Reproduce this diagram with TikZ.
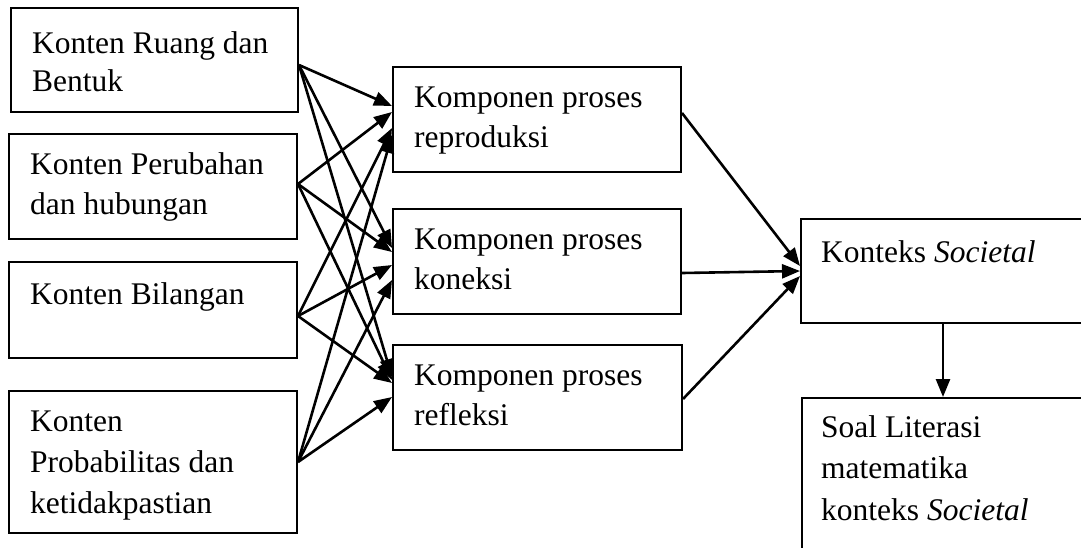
\documentclass[tikz,border=0pt]{standalone}
\usepackage{fontspec}
\setmainfont{Liberation Serif}
\usetikzlibrary{arrows.meta}
\begin{document}
\begin{tikzpicture}[x=1pt,y=-1pt,
  box/.style={draw,line width=2pt,anchor=north west,inner sep=0pt},
  txt/.style={anchor=base west,inner sep=0pt,font=\fontsize{31.5}{40}\selectfont},
  arr/.style={line width=2.6pt,-{Triangle[length=18pt,width=14pt]}}]
\useasboundingbox (0,0) rectangle (1081,547);
\clip (0,0) rectangle (1081,547);
% boxes
\node[box,minimum width=287pt,minimum height=104pt] (b1) at (10,7) {};
\node[box,minimum width=288pt,minimum height=105pt] (b2) at (8,133) {};
\node[box,minimum width=288pt,minimum height=96pt] (b3) at (8,261) {};
\node[box,minimum width=288pt,minimum height=142pt] (b4) at (8,390) {};
\node[box,minimum width=288pt,minimum height=105pt] (mA) at (392,66) {};
\node[box,minimum width=288pt,minimum height=105pt] (mB) at (392,208) {};
\node[box,minimum width=289pt,minimum height=105pt] (mC) at (392,344) {};
\node[box,minimum width=300pt,minimum height=104pt] (S) at (800,218) {};
\node[box,minimum width=300pt,minimum height=170pt] (Q) at (801,397) {};
% texts
\node[txt] (t11) at (32,53) {Konten Ruang dan};
\node[txt] (t12) at (32,91) {Bentuk};
\node[txt] (t21) at (30,174) {Konten Perubahan};
\node[txt] (t22) at (30,214) {dan hubungan};
\node[txt] (t31) at (30,304) {Konten Bilangan};
\node[txt] (t41) at (30,431) {Konten};
\node[txt] (t42) at (30,472) {Probabilitas dan};
\node[txt] (t43) at (30,513) {ketidakpastian};
\node[txt] (tA1) at (414,107) {Komponen proses};
\node[txt] (tA2) at (414,147) {reproduksi};
\node[txt] (tB1) at (414,249) {Komponen proses};
\node[txt] (tB2) at (414,289) {koneksi};
\node[txt] (tC1) at (414,385) {Komponen proses};
\node[txt] (tC2) at (414,425) {refleksi};
\node[txt] (tS) at (821,262) {Konteks \textit{Societal}};
\node[txt] (tQ1) at (821,437) {Soal Literasi};
\node[txt] (tQ2) at (821,478) {matematika};
\node[txt] (tQ3) at (821,520) {konteks \textit{Societal}};
% connectors left -> middle
\draw[arr] ([yshift=-58pt]b1.north east) -- ([yshift=-40pt]mA.north west);
\draw[arr] ([yshift=-58pt]b1.north east) -- ([yshift=-40pt]mB.north west);
\draw[arr] ([yshift=-58pt]b1.north east) -- ([yshift=-33pt]mC.north west);
\draw[arr] ([yshift=-51pt]b2.north east) -- ([yshift=-46pt]mA.north west);
\draw[arr] ([yshift=-51pt]b2.north east) -- ([yshift=-44pt]mB.north west);
\draw[arr] ([yshift=-51pt]b2.north east) -- ([yshift=-36pt]mC.north west);
\draw[arr] ([yshift=-55pt]b3.north east) -- ([yshift=-62pt]mA.north west);
\draw[arr] ([yshift=-55pt]b3.north east) -- ([yshift=-57pt]mB.north west);
\draw[arr] ([yshift=-55pt]b3.north east) -- ([yshift=-39pt]mC.north west);
\draw[arr] ([yshift=-72pt]b4.north east) -- ([yshift=-69pt]mA.north west);
\draw[arr] ([yshift=-72pt]b4.north east) -- ([yshift=-72pt]mB.north west);
\draw[arr] ([yshift=-72pt]b4.north east) -- ([yshift=-53pt]mC.north west);
% middle -> societal
\draw[arr] ([yshift=-47pt]mA.north east) -- ([yshift=-48pt]S.north west);
\draw[arr] ([yshift=-65pt]mB.north east) -- ([yshift=-53pt]S.north west);
\draw[arr] ([yshift=-55pt]mC.north east) -- ([yshift=-58pt]S.north west);
% societal -> soal
\draw[arr] ([xshift=143pt]S.south west) -- ([xshift=142pt]Q.north west);
\end{tikzpicture}
\end{document}
